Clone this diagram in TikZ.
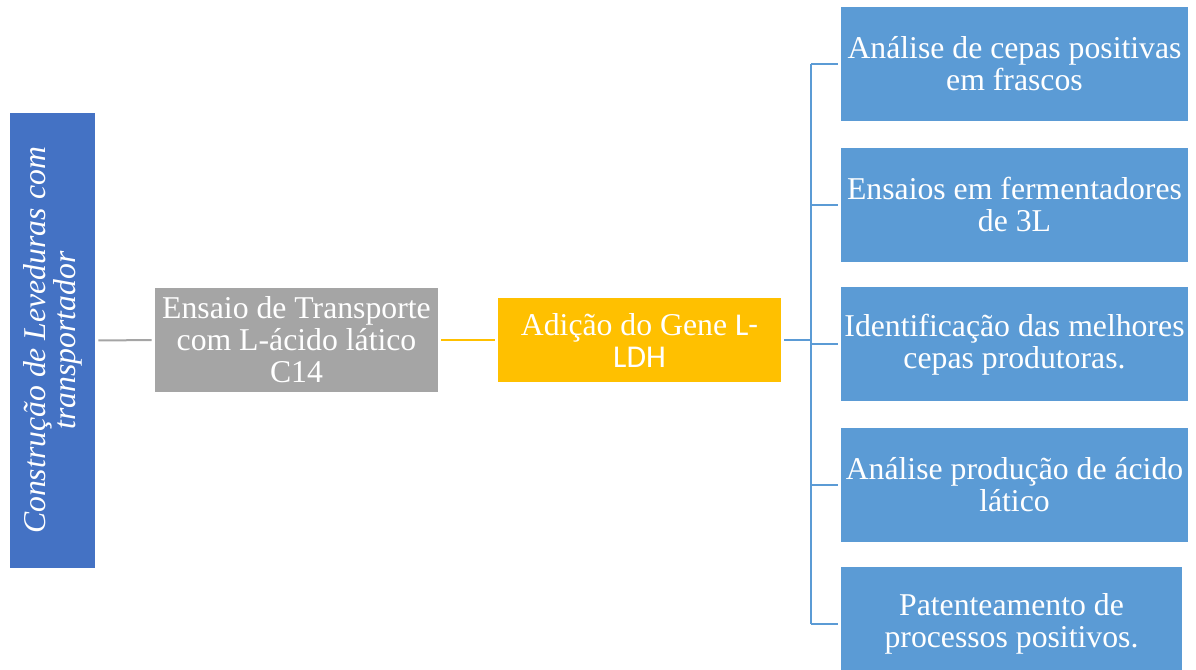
\documentclass[tikz,border=0pt]{standalone}
\usepackage{fontspec}
\setmainfont{Liberation Serif}
\newfontfamily\calibri{Carlito}
\usetikzlibrary{positioning}
\definecolor{darkblue}{HTML}{4472C4}
\definecolor{midgray}{HTML}{A5A5A5}
\definecolor{gold}{HTML}{FFC000}
\definecolor{skyblue}{HTML}{5B9BD5}
\begin{document}
\begin{tikzpicture}[x=0.75pt,y=-0.75pt,
    box/.style={fill=#1, text=white, inner sep=0pt, align=center,
      font=\fontsize{23.8}{24}\selectfont},
    stepbox/.style={box=skyblue, minimum width=260.25pt, minimum height=85.5pt},
    link/.style={draw=#1, line width=1.5pt, shorten <=2.25pt, shorten >=2.25pt}]
  \useasboundingbox (0,0) rectangle (1196,669);
  \node[box=darkblue, rotate=90, minimum width=341.25pt, minimum height=63.75pt,
        font=\fontsize{23.8}{22.5}\selectfont\itshape] (levedura) at (52.5,340.5)
        {Construção de Leveduras com\\transportador};
  \node[box=midgray, minimum width=212.25pt, minimum height=78pt] (ensaio) at (296.5,340)
        {Ensaio de Transporte\\com L-ácido lático\\C14};
  \node[box=gold, minimum width=212.25pt, minimum height=63pt] (gene) at (639.5,340)
        {Adição do Gene {\calibri L-}\\{\calibri LDH}};
  \node[stepbox] (frascos) at (1014.5,64) {Análise de cepas positivas\\em frascos};
  \node[stepbox, below=19.5pt of frascos] (fermenta) {Ensaios em fermentadores\\de 3L};
  \node[stepbox, below=19pt of fermenta] (melhores) {Identificação das melhores\\cepas produtoras.};
  \node[stepbox, below=19.5pt of melhores] (producao) {Análise produção de ácido\\lático};
  \node[stepbox, minimum width=255.75pt, below=18.5pt of producao.south west, anchor=north west] (patente) {Patenteamento de\\processos positivos.};
  \coordinate (tronco) at (811,340);
  \draw[link=midgray] (levedura.south) -- (ensaio.west);
  \draw[link=gold] (ensaio.east) -- (gene.west);
  \draw[link=skyblue, shorten >=0pt] (gene.east) -- (tronco);
  \draw[skyblue, line width=1.5pt] (tronco |- frascos.west) -- (tronco |- patente.west);
  \draw[link=skyblue, shorten <=0pt] (tronco |- frascos.west) -- (frascos.west);
  \draw[link=skyblue, shorten <=0pt] (tronco |- fermenta.west) -- (fermenta.west);
  \draw[link=skyblue, shorten <=0pt] (tronco |- melhores.west) -- (melhores.west);
  \draw[link=skyblue, shorten <=0pt] (tronco |- producao.west) -- (producao.west);
  \draw[link=skyblue, shorten <=0pt] (tronco |- patente.west) -- (patente.west);
\end{tikzpicture}
\end{document}
